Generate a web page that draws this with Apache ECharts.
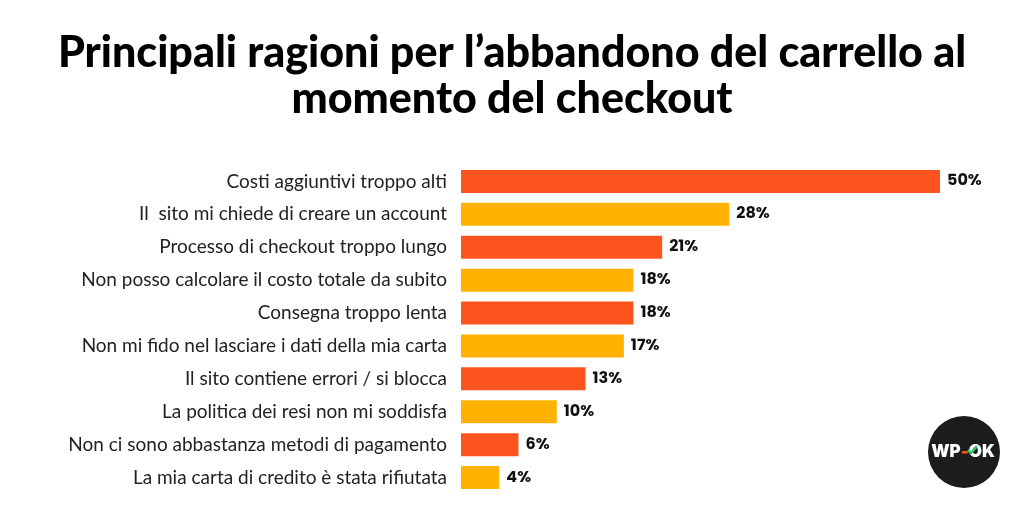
<!DOCTYPE html>
<html><head><meta charset="utf-8">
<script src="https://cdn.jsdelivr.net/npm/echarts@6/dist/echarts.min.js"></script>
<style>html,body{margin:0;padding:0;background:#fff}#c{width:1024px;height:513px}</style>
</head><body><div id="c"></div>
<script>
const titleText = "Principali ragioni per l’abbandono del carrello al\nmomento del checkout";
const categories = [
  "Costi aggiuntivi troppo alti",
  "Il  sito mi chiede di creare un account",
  "Processo di checkout troppo lungo",
  "Non posso calcolare il costo totale da subito",
  "Consegna troppo lenta",
  "Non mi fido nel lasciare i dati della mia carta",
  "Il sito contiene errori / si blocca",
  "La politica dei resi non mi soddisfa",
  "Non ci sono abbastanza metodi di pagamento",
  "La mia carta di credito è stata rifiutata"
];
const values = [50, 28, 21, 18, 18, 17, 13, 10, 6, 4];
const colorA = "#FF5420";
const colorB = "#FFB300";

const chart = echarts.init(document.getElementById('c'), null, {renderer:'canvas'});
chart.setOption({
  backgroundColor: '#fff',
  animation: false,
  title: {
    text: titleText, left: 'center', top: 25,
    textStyle: {fontFamily: 'Lato', fontWeight: 900, fontSize: 43, lineHeight: 46, color: '#000'}
  },
  grid: {left: 461, right: 1024 - 940, top: 165, bottom: 513 - 494, containLabel: false},
  xAxis: {type: 'value', min: 0, max: 50, show: false},
  yAxis: {
    type: 'category', inverse: true, data: categories,
    axisLine: {show: false}, axisTick: {show: false},
    axisLabel: {margin: 14, fontFamily: 'Lato', fontSize: 19, color: '#222'}
  },
  series: [{
    type: 'bar', barWidth: 23,
    data: values.map((v, i) => ({value: v, itemStyle: {color: i % 2 === 0 ? colorA : colorB}})),
    label: {show: true, position: 'right', distance: 7, formatter: '{c}%',
      fontFamily: 'Poppins, Inter, sans-serif', fontWeight: 'bold', fontSize: 16, color: '#111'}
  }],
  graphic: [
    {type: 'circle', shape: {cx: 964, cy: 452, r: 36}, style: {fill: '#1c1c1c'}},
    {type: 'text', x: 963, y: 452, style: {
      text: '{w|WP}{d|-}{w|OK}', align: 'center', verticalAlign: 'middle',
      rich: {
        w: {fill: '#fff', font: '900 17px Inter, sans-serif'},
        d: {fill: '#FF5420', font: '900 17px Inter, sans-serif'}
      }
    }},
    {type: 'polyline', shape: {points: [[968, 450], [971, 453], [977, 446]]}, style: {stroke: '#2ecc71', lineWidth: 2.5, fill: null}}
  ]
});
</script></body></html>
